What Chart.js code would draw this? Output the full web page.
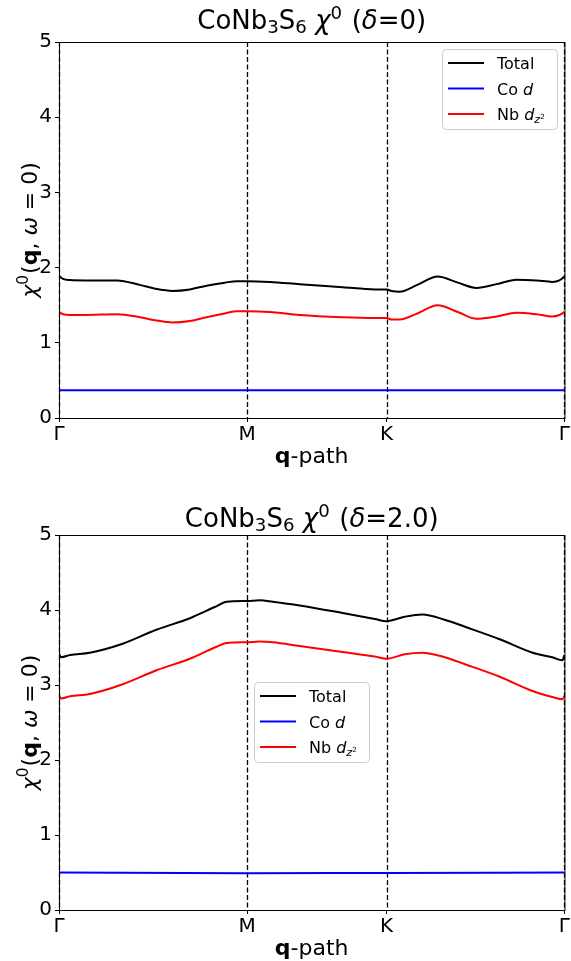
<!DOCTYPE html>
<html>
<head>
<meta charset="utf-8">
<script src="https://cdn.jsdelivr.net/npm/chart.js@4.4.1/dist/chart.umd.min.js"></script>
<style>
  body { margin: 0; background: #fff; }
  .wrap { position: absolute; left: 0; width: 571px; }
</style>
</head>
<body>
<div class="wrap" style="top:0"><canvas id="chiTop" width="571" height="480"></canvas></div>
<div class="wrap" style="top:480px"><canvas id="chiBottom" width="571" height="481"></canvas></div>
<script>
// high-symmetry points along the q-path
const highSymPos = [0, 0.372, 0.648, 1];
const highSymLabels = ['Γ', 'M', 'K', 'Γ'];

// delta = 0
const qTop = [0, 0.008, 0.022, 0.051, 0.115, 0.160, 0.190, 0.225, 0.259, 0.292, 0.328, 0.352, 0.372,
  0.417, 0.476, 0.561, 0.625, 0.648, 0.658, 0.674, 0.709, 0.749, 0.789, 0.826, 0.866, 0.905, 0.945, 0.976, 0.990, 1];
const totalTop = [1.89, 1.85, 1.835, 1.83, 1.83, 1.77, 1.72, 1.69, 1.71, 1.76, 1.80, 1.82, 1.82,
  1.81, 1.78, 1.74, 1.71, 1.71, 1.69, 1.68, 1.77, 1.88, 1.80, 1.73, 1.78, 1.84, 1.83, 1.81, 1.83, 1.88];
const nbTop = [1.41, 1.38, 1.37, 1.37, 1.38, 1.34, 1.30, 1.27, 1.29, 1.34, 1.39, 1.42, 1.42,
  1.41, 1.37, 1.34, 1.33, 1.33, 1.31, 1.31, 1.39, 1.50, 1.41, 1.32, 1.35, 1.40, 1.38, 1.35, 1.37, 1.41];
const qCoTop = [0, 0.372, 0.648, 1];
const coTop = [0.37, 0.37, 0.37, 0.37];

// delta = 2.0
const qBottom = [0, 0.004, 0.022, 0.061, 0.126, 0.194, 0.259, 0.308, 0.332, 0.372, 0.397, 0.423,
  0.476, 0.561, 0.625, 0.648, 0.684, 0.719, 0.763, 0.806, 0.872, 0.937, 0.976, 0.996, 1];
const totalBottom = [3.42, 3.37, 3.40, 3.43, 3.55, 3.74, 3.89, 4.04, 4.11, 4.12, 4.13, 4.11,
  4.06, 3.96, 3.88, 3.85, 3.91, 3.94, 3.87, 3.77, 3.61, 3.43, 3.37, 3.33, 3.40];
const nbBottom = [2.86, 2.82, 2.85, 2.88, 3.01, 3.20, 3.35, 3.50, 3.56, 3.57, 3.58, 3.57,
  3.52, 3.44, 3.38, 3.35, 3.41, 3.43, 3.37, 3.27, 3.11, 2.92, 2.84, 2.81, 2.85];
const qCoBottom = [0, 0.372, 0.648, 1];
const coBottom = [0.50, 0.49, 0.495, 0.50];

const FONT = '"DejaVu Sans"';

// draw a run of text pieces (sub/superscripts, italics, bold)
function drawRich(ctx, parts, x, y, size, align) {
  let w = 0;
  const items = parts.map(p => {
    const s = size * (p.scale || 1);
    const font = (p.it ? 'italic ' : '') + (p.b ? 'bold ' : '') + s + 'px ' + FONT;
    ctx.font = font;
    const mw = ctx.measureText(p.t).width + (p.gap || 0) * size;
    w += mw;
    return { t: p.t, font: font, w: mw, dy: (p.dy || 0) * size };
  });
  let cx = align === 'center' ? x - w / 2 : x;
  ctx.textAlign = 'left';
  ctx.textBaseline = 'alphabetic';
  items.forEach(it => {
    ctx.font = it.font;
    ctx.fillText(it.t, cx, y + it.dy);
    cx += it.w;
  });
}

function titleParts(delta) {
  return [
    { t: 'CoNb' }, { t: '3', scale: 0.7, dy: 0.15 }, { t: 'S' }, { t: '6', scale: 0.7, dy: 0.15 },
    { t: ' ' }, { t: 'χ', it: true }, { t: '0', scale: 0.7, dy: -0.4, gap: 0.05 }, { t: ' (' },
    { t: 'δ', it: true }, { t: '=' + delta + ')' }
  ];
}
const yTitleParts = [
  { t: 'χ', it: true }, { t: '0', scale: 0.7, dy: -0.4, gap: 0.05 }, { t: '(' }, { t: 'q', b: true },
  { t: ', ' }, { t: 'ω', it: true }, { t: ' = 0)' }
];
const xTitleParts = [{ t: 'q', b: true }, { t: '-path' }];
const legendItems = [
  { color: '#000000', parts: [{ t: 'Total' }] },
  { color: '#0000ff', parts: [{ t: 'Co ' }, { t: 'd', it: true }] },
  { color: '#ff0000', parts: [{ t: 'Nb ' }, { t: 'd', it: true }, { t: 'z', it: true, scale: 0.7, dy: 0.2 },
    { t: '2', scale: 0.45, dy: -0.05 }] }
];

const decorPlugin = {
  id: 'decor',
  beforeDatasetsDraw(chart, args, opts) {
    const ctx = chart.ctx, a = chart.chartArea, xs = chart.scales.x;
    ctx.save();
    ctx.strokeStyle = '#000';
    ctx.lineWidth = 1.3;
    ctx.setLineDash([5, 2.5]);
    highSymPos.forEach(v => {
      const px = Math.round(xs.getPixelForValue(v)) + 0.5;
      ctx.beginPath();
      ctx.moveTo(px, a.top);
      ctx.lineTo(px, a.bottom);
      ctx.stroke();
    });
    ctx.restore();
  },
  afterDraw(chart, args, opts) {
    const ctx = chart.ctx, a = chart.chartArea;
    ctx.save();
    // frame
    ctx.strokeStyle = '#000';
    ctx.lineWidth = 1;
    ctx.strokeRect(a.left + 0.5, a.top + 0.5, a.right - a.left, a.bottom - a.top);
    ctx.fillStyle = '#000';
    // title
    drawRich(ctx, titleParts(opts.delta), (a.left + a.right) / 2, opts.titleY, 26, 'center');
    // x title
    drawRich(ctx, xTitleParts, (a.left + a.right) / 2, opts.xTitleY, 22, 'center');
    // y title
    ctx.save();
    ctx.translate(37, (a.top + a.bottom) / 2);
    ctx.rotate(-Math.PI / 2);
    drawRich(ctx, yTitleParts, 0, 0, 22, 'center');
    ctx.restore();
    // legend
    const L = opts.legend;
    ctx.fillStyle = 'rgba(255,255,255,0.8)';
    ctx.strokeStyle = '#cccccc';
    ctx.lineWidth = 1;
    ctx.beginPath();
    ctx.roundRect(L.x + 0.5, L.y + 0.5, L.w, L.h, 4);
    ctx.fill();
    ctx.stroke();
    legendItems.forEach((item, i) => {
      const cy = L.y + 14 + i * 25.5;
      ctx.strokeStyle = item.color;
      ctx.lineWidth = 2;
      ctx.beginPath();
      ctx.moveTo(L.x + 6, cy);
      ctx.lineTo(L.x + 42, cy);
      ctx.stroke();
      ctx.fillStyle = '#000';
      drawRich(ctx, item.parts, L.x + 55, cy + 6, 16, 'left');
    });
    ctx.restore();
  }
};

function makeChart(id, q, total, co, qCo, nb, opts) {
  const ds = (label, xs, ys, color) => ({
    label: label,
    data: xs.map((x, i) => ({ x: x, y: ys[i] })),
    borderColor: color,
    borderWidth: 2,
    pointRadius: 0,
    showLine: true,
    fill: false,
    cubicInterpolationMode: 'monotone'
  });
  return new Chart(document.getElementById(id), {
    type: 'scatter',
    data: {
      datasets: [
        ds('Total', q, total, '#000000'),
        ds('Co d', qCo, co, '#0000ff'),
        ds('Nb dz2', q, nb, '#ff0000')
      ]
    },
    options: {
      responsive: false,
      animation: false,
      devicePixelRatio: 1,
      layout: { padding: { top: opts.padTop, right: 6, left: 0, bottom: 0 } },
      plugins: {
        legend: { display: false },
        tooltip: { enabled: false },
        decor: opts
      },
      scales: {
        x: {
          type: 'linear', min: 0, max: 1,
          afterBuildTicks: axis => { axis.ticks = highSymPos.map(v => ({ value: v })); },
          afterFit: scale => { scale.height = opts.xHeight; },
          ticks: {
            callback: (v, i) => highSymLabels[i],
            color: '#000', font: { family: FONT, size: 20 }, padding: 1, maxRotation: 0,
            autoSkip: false
          },
          grid: { drawOnChartArea: false, drawTicks: true, tickLength: 4, color: '#000' },
          border: { display: false }
        },
        y: {
          min: 0, max: 5,
          afterFit: scale => { scale.width = 59; },
          ticks: { stepSize: 1, color: '#000', font: { family: FONT, size: 20 }, padding: 3 },
          grid: { drawOnChartArea: false, drawTicks: true, tickLength: 4, color: '#000' },
          border: { display: false }
        }
      }
    },
    plugins: [decorPlugin]
  });
}

makeChart('chiTop', qTop, totalTop, coTop, qCoTop, nbTop, {
  padTop: 42, xHeight: 62, delta: '0', titleY: 29, xTitleY: 463,
  legend: { x: 442, y: 49, w: 115, h: 80 }
});
makeChart('chiBottom', qBottom, totalBottom, coBottom, qCoBottom, nbBottom, {
  padTop: 55, xHeight: 51, delta: '2.0', titleY: 47, xTitleY: 475,
  legend: { x: 254, y: 202, w: 115, h: 80 }
});
</script>
</body>
</html>
